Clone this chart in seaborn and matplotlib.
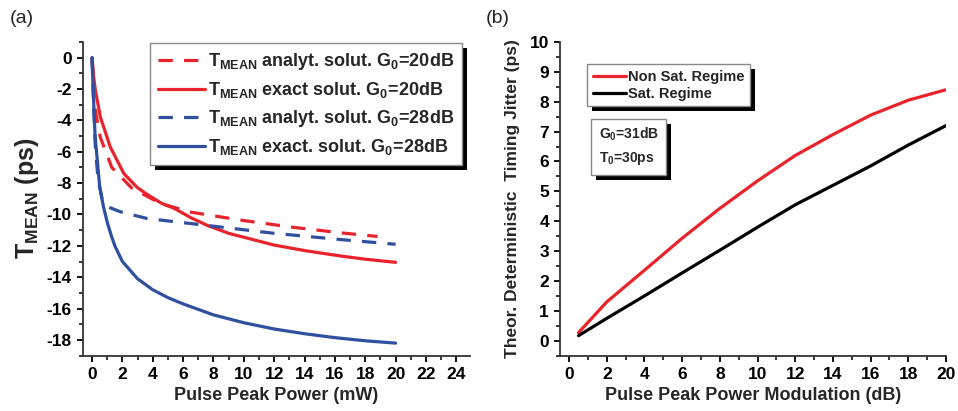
import matplotlib
matplotlib.use("Agg")
import matplotlib.pyplot as plt
import matplotlib.patches as mpatches
from matplotlib.ticker import MultipleLocator
import pandas as pd
import seaborn as sns

# ---- panel (a): T_MEAN vs pulse peak power ----
pw_exact20 = [0, 0.1, 0.22, 0.55, 1.2, 2.1, 3.0, 3.6, 4.6, 5.4, 6.5, 7.6, 9.0, 10, 12, 14, 16.4, 18, 20]
tm_exact20 = [0, -1.2, -2.1, -3.8, -5.7, -7.4, -8.3, -8.7, -9.3, -9.6, -10.2, -10.7, -11.2, -11.45,
              -11.95, -12.3, -12.65, -12.85, -13.05]

pw_analyt20 = [0, 0.1, 0.22, 0.55, 1.3, 2.6, 4.5, 6.5, 9.8, 13.1, 16.4, 18.8]
tm_analyt20 = [0, -1.8, -3.4, -5.1, -7.0, -8.3, -9.3, -9.85, -10.36, -10.8, -11.17, -11.4]

pw_exact28 = [0, 0.07, 0.2, 0.5, 0.75, 1.0, 1.25, 1.5, 2, 3, 4, 5, 6, 8, 10, 12, 14, 16, 18, 20]
tm_exact28 = [0, -2.0, -5.0, -8.2, -9.5, -10.5, -11.3, -12.0, -13.0, -14.1, -14.8, -15.3, -15.7,
              -16.4, -16.9, -17.3, -17.6, -17.85, -18.05, -18.2]

pw_analyt28 = [0, 0.1, 0.22, 0.4, 0.66, 1.0, 1.87, 3.6, 5.8, 7.6, 12, 16.4, 20]
tm_analyt28 = [0, -3.0, -5.8, -7.8, -9.0, -9.5, -9.83, -10.25, -10.5, -10.7, -11.2, -11.6, -11.9]

# ---- panel (b): timing jitter vs modulation ----
mod_db = [0.5, 2, 4, 6, 8, 10, 12, 14, 16, 18, 20]
jit_nonsat = [0.27, 1.3, 2.36, 3.43, 4.43, 5.35, 6.2, 6.9, 7.55, 8.05, 8.4]
jit_sat = [0.17, 0.75, 1.5, 2.27, 3.03, 3.8, 4.55, 5.2, 5.85, 6.55, 7.2]

RED = "#e8232b"
BLUE = "#2f4f9f"
FONT = "Liberation Sans"
DASH = (4.5, 3.5)

sns.set_theme(style="ticks")
plt.rcParams.update({
    "font.family": [FONT, "DejaVu Sans"],
    "font.weight": "bold",
    "axes.labelweight": "bold",
    "axes.unicode_minus": False,
    "mathtext.fontset": "custom",
    "mathtext.rm": f"{FONT}:bold",
    "mathtext.it": f"{FONT}:bold",
    "mathtext.bf": f"{FONT}:bold",
    "mathtext.default": "rm",
    "axes.linewidth": 1.3,
    "axes.facecolor": "none",
    "figure.facecolor": "white",
    "xtick.major.width": 1.3, "ytick.major.width": 1.3,
    "xtick.minor.width": 1.1, "ytick.minor.width": 1.1,
    "xtick.major.size": 4.5, "ytick.major.size": 4.5,
    "xtick.minor.size": 2.8, "ytick.minor.size": 2.8,
    "xtick.labelsize": 12.5, "ytick.labelsize": 12.5,
    "xtick.color": "black", "ytick.color": "black",
    "axes.edgecolor": "#333333",
})

fig = plt.figure(figsize=(9.58, 4.11), dpi=100)
ax1 = fig.add_axes([0.0866, 0.1346, 0.404, 0.7634])
ax2 = fig.add_axes([0.5846, 0.1346, 0.4029, 0.7634])

series_a = [
    (pw_analyt20, tm_analyt20, RED, True, r"T$_{\rm MEAN}$ analyt. solut. G$_{\rm 0}$=20dB"),
    (pw_exact20, tm_exact20, RED, False, r"T$_{\rm MEAN}$ exact solut. G$_{\rm 0}$=20dB"),
    (pw_analyt28, tm_analyt28, BLUE, True, r"T$_{\rm MEAN}$ analyt. solut. G$_{\rm 0}$=28dB"),
    (pw_exact28, tm_exact28, BLUE, False, r"T$_{\rm MEAN}$ exact. solut. G$_{\rm 0}$=28dB"),
]
for xs, ys, col, dashed, lab in series_a:
    df = pd.DataFrame({"x": xs, "y": ys})
    sns.lineplot(data=df, x="x", y="y", ax=ax1, color=col, linewidth=2.3,
                 label=lab, sort=False, estimator=None)
    if dashed:
        ax1.lines[-1].set_dashes(DASH)

ax1.set_xlim(-0.6, 24.9)
ax1.set_ylim(-19, 1)
ax1.xaxis.set_major_locator(MultipleLocator(2))
ax1.xaxis.set_minor_locator(MultipleLocator(1))
ax1.yaxis.set_major_locator(MultipleLocator(2))
ax1.yaxis.set_minor_locator(MultipleLocator(1))
ax1.set_xlabel("Pulse Peak Power (mW)", fontsize=13, labelpad=4)
ax1.set_ylabel(r"T$_{\rm MEAN}$ (ps)", fontsize=18, labelpad=4)
leg1 = ax1.legend(loc="upper right", bbox_to_anchor=(0.979, 0.997), borderaxespad=0,
                  fontsize=13, handlelength=2.6, handletextpad=0.15, labelspacing=0.45,
                  borderpad=0.45, frameon=True, fancybox=False, edgecolor="#888888",
                  facecolor="white", framealpha=1)
leg1.get_frame().set_linewidth(1.0)

df_b = pd.DataFrame({"x": mod_db + mod_db,
                     "y": jit_nonsat + jit_sat,
                     "regime": ["Non Sat. Regime"] * len(mod_db) + ["Sat. Regime"] * len(mod_db)})
sns.lineplot(data=df_b, x="x", y="y", hue="regime", ax=ax2,
             palette={"Non Sat. Regime": RED, "Sat. Regime": "black"},
             linewidth=2.3, estimator=None)
ax2.set_xlim(-0.48, 20)
ax2.set_ylim(-0.5, 10)
ax2.xaxis.set_major_locator(MultipleLocator(2))
ax2.xaxis.set_minor_locator(MultipleLocator(1))
ax2.yaxis.set_major_locator(MultipleLocator(1))
ax2.yaxis.set_minor_locator(MultipleLocator(0.5))
ax2.set_xlabel("Pulse Peak Power Modulation (dB)", fontsize=13, labelpad=4)
ax2.set_ylabel("Theor. Deterministic  Timing Jitter (ps)", fontsize=12.5, labelpad=7)
leg2 = ax2.legend(loc="upper left", bbox_to_anchor=(0.07, 0.93), borderaxespad=0,
                  fontsize=10.5, handlelength=2.3, handletextpad=0.1, labelspacing=0.2,
                  borderpad=0.4, frameon=True, fancybox=False, edgecolor="#888888",
                  facecolor="white", framealpha=1, title=None)
leg2.get_frame().set_linewidth(1.0)

txt = ax2.text(0.1, 0.733, "G$_{\\rm 0}$=31dB\nT$_{\\rm 0}$=30ps", transform=ax2.transAxes,
               ha="left", va="top", fontsize=10, linespacing=1.6, zorder=6,
               bbox=dict(boxstyle="square,pad=0.55", fc="white", ec="#888888", lw=1.0))

for ax in (ax1, ax2):
    sns.despine(ax=ax)
    ax.tick_params(which="both", direction="out")

fig.text(0.010, 0.955, "(a)", fontsize=14, fontweight="normal", va="center")
fig.text(0.507, 0.955, "(b)", fontsize=14, fontweight="normal", va="center")

# Origin-style black drop shadows: figure-level rectangles placed under the
# (transparent) axes, offset 5 px right/down from each box
fig.canvas.draw()
renderer = fig.canvas.get_renderer()
to_fig = fig.transFigure.inverted()
for patch in (leg1.get_frame(), leg2.get_frame(), txt.get_bbox_patch()):
    bb = patch.get_window_extent(renderer)
    (x0, y0), (x1, y1) = to_fig.transform([(bb.x0 + 5, bb.y0 - 5), (bb.x1 + 5, bb.y1 - 5)])
    fig.add_artist(mpatches.Rectangle((x0, y0), x1 - x0, y1 - y0, transform=fig.transFigure,
                                      facecolor="black", edgecolor="none", zorder=-1))

fig.savefig("out.png", dpi=100, facecolor="white")
